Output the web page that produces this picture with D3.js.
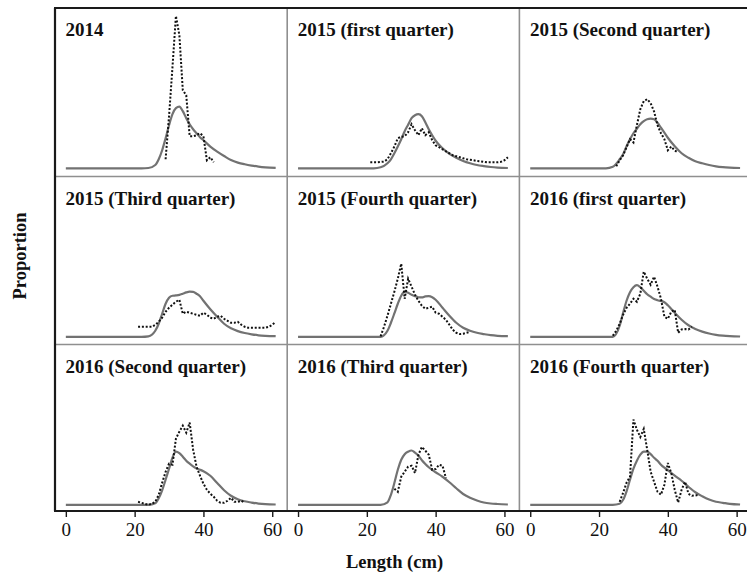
<!DOCTYPE html>
<html>
<head>
<meta charset="utf-8">
<script src="https://cdn.jsdelivr.net/npm/d3@7"></script>
<style>
  body { margin: 0; background: #fff; }
  svg { display: block; }
  text { font-family: "Liberation Serif", "Times New Roman", serif; }
</style>
</head>
<body>
<svg id="chart" width="747" height="574"></svg>
<script>
// Panel titles, in reading order (3 x 3 grid)
const titles = [
  "2014", "2015 (first quarter)", "2015 (Second quarter)",
  "2015 (Third quarter)", "2015 (Fourth quarter)", "2016 (first quarter)",
  "2016 (Second quarter)", "2016 (Third quarter)", "2016 (Fourth quarter)"
];

// Fitted (model) length distributions, sampled at these lengths (cm)
const fitLength = [0, 20, 22, 24, 26, 27, 28, 29, 30, 31, 32, 33, 34, 35, 36, 37, 38, 39, 40, 42, 44, 46, 48, 50, 52, 54, 56, 58, 61];
const fit2014   = [0, 0, 0, .0003, .0033, .009, .018, .030, .043, .054, .060, .0615, .057, .050, .044, .039, .035, .031, .028, .0217, .0167, .0123, .0083, .0057, .004, .0027, .0017, .001, .0005];
const fit2015q1 = [0, 0, 0, .001, .005, .009, .015, .0217, .029, .037, .0435, .050, .053, .054, .052, .046, .039, .033, .0275, .020, .0145, .0105, .0073, .005, .0033, .0022, .0013, .0007, .0003];
const fit2015q2 = [0, 0, 0, .0015, .009, .014, .022, .029, .035, .0395, .044, .047, .049, .0495, .049, .0455, .0405, .0355, .0305, .022, .015, .0105, .007, .005, .0033, .002, .0012, .0007, .0003];
const fit2015q3 = [0, 0, 0, .0005, .006, .013, .023, .033, .039, .041, .0413, .0418, .043, .0443, .045, .0448, .043, .0405, .036, .0275, .020, .013, .0085, .0057, .0038, .0025, .0015, .001, .0007];
const fit2015q4 = [0, 0, 0, 0, .006, .014, .0233, .033, .041, .045, .044, .042, .0405, .0395, .0393, .0403, .0405, .0395, .037, .029, .021, .014, .009, .006, .004, .0027, .0016, .001, .0007];
const fit2016q1 = [0, 0, 0, 0, .011, .024, .036, .0445, .0495, .0515, .0495, .046, .0425, .040, .0377, .0365, .0358, .0345, .0315, .024, .017, .0115, .0078, .0052, .0033, .002, .0012, .0007, .0003];
const fit2016q2 = [0, 0, 0, 0, .0015, .0065, .0145, .025, .036, .047, .053, .0515, .048, .044, .041, .0383, .0363, .035, .0335, .029, .0217, .0145, .009, .0055, .0035, .0022, .0012, .0006, .0003];
const fit2016q3 = [0, 0, 0, 0, .0025, .010, .0217, .035, .045, .0505, .053, .0542, .052, .049, .0445, .0408, .0375, .0348, .0325, .028, .0225, .0165, .0108, .007, .0043, .0023, .0013, .0008, .0003];
const fit2016q4 = [0, 0, 0, 0, .001, .005, .0135, .025, .036, .044, .050, .053, .053, .0505, .047, .044, .040, .037, .0345, .029, .024, .018, .0125, .0085, .0052, .003, .002, .001, .0003];

// Observed length-frequency proportions, 1 cm bins starting at obsStart (cm)
const obsStart = [29, 21, 25, 21, 24, 24, 21, 28, 26];
const obs2014   = [.009, .052, .101, .152, .133, .078, .073, .032, .032, .033, .035, .032, .008, .011, .006];
const obs2015q1 = [.006, .006, .006, .0063, .0067, .009, .015, .0217, .030, .0315,
                   .032, .036, .044, .038, .033, .040, .033, .036, .028, .023,
                   .021, .019, .017, .015, .013, .012, .011, .010, .009, .0085,
                   .008, .0073, .007, .0065, .006, .006, .006, .006, .0065, .008, .011];
const obs2015q2 = [.002, .008, .013, .021, .029, .0257, .043, .059, .067, .069, .065, .0567, .043, .035, .029, .018, .0217, .0177, .0157];
const obs2015q3 = [.010, .010, .010, .010, .010, .012, .015, .019, .025, .029,
                   .032, .035, .037, .023, .025, .024, .023, .022, .021, .024,
                   .022, .019, .018, .020, .021, .018, .016, .014, .014, .015,
                   .012, .010, .009, .009, .009, .009, .009, .009, .010, .012, .015];
const obs2015q4 = [.0005, .010, .021, .033, .045, .058, .073, .038, .058, .050,
                   .042, .036, .031, .028, .029, .030, .024, .023, .020, .017,
                   .012, .007, .004, .0027, .003, .004, .005];
const obs2016q1 = [.001, .006, .013, .022, .029, .033, .038, .035, .043, .065, .058, .052, .060, .050, .038, .020, .018, .025, .027, .004, .0073, .0077, .0073, .010];
const obs2016q2 = [.003, .002, .001, 0, .001, .003, .010, .022, .033, .041,
                   .040, .066, .073, .079, .072, .082, .055, .038, .029, .021,
                   .015, .011, .008, .004, .002, .002, .004, .007, .003, .003, .004, .002];
const obs2016q3 = [.016, .013, .028, .033, .038, .039, .0317, .050, .0577, .054, .050, .035, .0357, .040, .039, .0267];
const obs2016q4 = [.003, .012, .022, .028, .085, .075, .0677, .0757, .055, .033, .023, .013, .010, .020, .0417, .0317, .015, .0023, .015, .023, .011, .009, .0093, .010];

const xTicks = [0, 20, 40, 60];

const fits = [fit2014, fit2015q1, fit2015q2, fit2015q3, fit2015q4, fit2016q1, fit2016q2, fit2016q3, fit2016q4];
const observed = [obs2014, obs2015q1, obs2015q2, obs2015q3, obs2015q4, obs2016q1, obs2016q2, obs2016q3, obs2016q4];

// ---- layout ----
const svg = d3.select("#chart");
const W = 747;
const frameLeft = 55, frameTop = 8, frameBottom = 511;
const colW = 232.2;
const rowTops = [8, 176.5, 344.5];

const x = d3.scaleLinear().domain([-3.15, 64.35]).range([0, colW]);
const y = d3.scaleLinear().domain([0, 0.152]).range([160.3, 8]);

const fitLine = d3.line()
  .x(d => x(d[0]))
  .y(d => y(d[1]))
  .curve(d3.curveMonotoneX);
const obsLine = d3.line()
  .x(d => x(d[0]))
  .y(d => y(d[1]));

titles.forEach((title, k) => {
  const col = k % 3, row = Math.floor(k / 3);
  const g = svg.append("g")
    .attr("transform", `translate(${frameLeft + col * colW},${rowTops[row]})`);

  const fitPts = fitLength.map((L, i) => [L, fits[k][i]]);
  g.append("path")
    .attr("d", fitLine(fitPts))
    .attr("fill", "none")
    .attr("stroke", "#727272")
    .attr("stroke-width", 2.2)
    .attr("stroke-linejoin", "round");

  const obsPts = observed[k].map((v, i) => [obsStart[k] + i, v]);
  g.append("path")
    .attr("d", obsLine(obsPts))
    .attr("fill", "none")
    .attr("stroke", "#111")
    .attr("stroke-width", 2)
    .attr("stroke-dasharray", "2,1.8");

  g.append("text")
    .attr("x", 10.5)
    .attr("y", 28)
    .attr("font-size", 19)
    .attr("font-weight", "bold")
    .attr("fill", "#111")
    .text(title);
});

// panel dividers
const divider = "#8f8f8f";
[1, 2].forEach(c => {
  svg.append("line")
    .attr("x1", frameLeft + c * colW).attr("x2", frameLeft + c * colW)
    .attr("y1", frameTop).attr("y2", frameBottom)
    .attr("stroke", divider).attr("stroke-width", 1.6);
});
[1, 2].forEach(r => {
  svg.append("line")
    .attr("x1", frameLeft).attr("x2", W)
    .attr("y1", rowTops[r]).attr("y2", rowTops[r])
    .attr("stroke", divider).attr("stroke-width", 1.6);
});

// outer frame
const frame = "#1a1a1a";
svg.append("line").attr("x1", frameLeft - 1).attr("x2", W).attr("y1", frameTop).attr("y2", frameTop)
  .attr("stroke", frame).attr("stroke-width", 2.2);
svg.append("line").attr("x1", frameLeft).attr("x2", frameLeft).attr("y1", frameTop).attr("y2", frameBottom)
  .attr("stroke", frame).attr("stroke-width", 2.2);
svg.append("line").attr("x1", frameLeft - 1).attr("x2", W).attr("y1", frameBottom).attr("y2", frameBottom)
  .attr("stroke", frame).attr("stroke-width", 2.2);

// x axes, one per column
[0, 1, 2].forEach(c => {
  const ax = svg.append("g")
    .attr("transform", `translate(${frameLeft + c * colW},${frameBottom})`)
    .call(d3.axisBottom(x).tickValues(xTicks).tickSize(6).tickSizeOuter(0).tickPadding(5.5));
  ax.select(".domain").remove();
  ax.selectAll(".tick line").attr("stroke", frame).attr("stroke-width", 1.4);
  ax.selectAll(".tick text")
    .attr("font-family", "Liberation Serif, serif")
    .attr("font-size", 19)
    .attr("fill", "#111");
});

// axis titles
svg.append("text")
  .attr("x", 394.5).attr("y", 568)
  .attr("text-anchor", "middle")
  .attr("font-size", 18.5).attr("font-weight", "bold").attr("fill", "#111")
  .text("Length (cm)");
svg.append("text")
  .attr("transform", "translate(26,256) rotate(-90)")
  .attr("text-anchor", "middle")
  .attr("font-size", 18.5).attr("font-weight", "bold").attr("fill", "#111")
  .text("Proportion");
</script>
</body>
</html>
